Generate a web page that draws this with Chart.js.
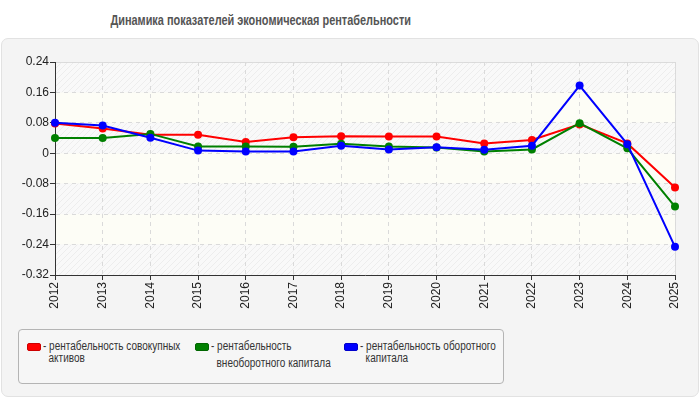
<!DOCTYPE html>
<html>
<head>
<meta charset="utf-8">
<script src="https://cdn.jsdelivr.net/npm/chart.js@4"></script>
<style>
    body { margin: 0; width: 700px; height: 400px; background: #fff; position: relative; overflow: hidden;
           font-family: "Liberation Sans", Arial, sans-serif; }
    .title { position: absolute; left: 0; width: 521px; top: 11px; text-align: center; }
    .title span { display: inline-block; font-size: 14px; font-weight: bold; color: #555;
                  transform: scaleX(0.78); transform-origin: center; white-space: nowrap; }
    .panel { position: absolute; left: 1px; top: 38px; width: 696px; height: 357px;
             background: #f4f4f4; border: 1px solid #e2e2e2; border-radius: 7px; }
    #grafico { position: absolute; left: 0; top: 40px; }
    .legend { position: absolute; left: 18px; top: 329px; width: 484px; height: 53px;
              border: 1px solid #b4b4b4; border-radius: 4px; background: #f6f6f6; }
    .item { position: absolute; top: 10px; font-size: 12.5px; color: #333; line-height: 12px; }
    .swatch { position: absolute; left: 0; top: 3px; width: 12px; height: 6px; border-radius: 2px; }
    .txt { position: absolute; left: 16px; top: 0; white-space: nowrap;
           transform: scaleX(0.8); transform-origin: left top; }
</style>
</head>
<body>
<div class="title"><span>Динамика показателей экономическая рентабельности</span></div>
<div class="panel"></div>
<canvas id="grafico" width="700" height="280"></canvas>
<div class="legend">
    <div class="item" style="left: 8px;">
        <div class="swatch" style="background: #ff0000; border: 1px solid #c00;"></div>
        <div class="txt">- рентабельность совокупных<br>&nbsp;&nbsp;активов</div>
    </div>
    <div class="item" style="left: 176px;">
        <div class="swatch" style="background: #008000; border: 1px solid #060;"></div>
        <div class="txt">- рентабельность<br><span style="position: relative; top: 5px;">&nbsp;&nbsp;внеоборотного капитала</span></div>
    </div>
    <div class="item" style="left: 325px;">
        <div class="swatch" style="background: #0000ff; border: 1px solid #00c;"></div>
        <div class="txt">- рентабельность оборотного<br>&nbsp;&nbsp;капитала</div>
    </div>
</div>
<script>
// Datos del gráfico
const anios = ['2012', '2013', '2014', '2015', '2016', '2017', '2018', '2019', '2020', '2021', '2022', '2023', '2024', '2025'];
const rentActivos = [0.078, 0.065, 0.049, 0.049, 0.030, 0.042, 0.045, 0.044, 0.044, 0.026, 0.035, 0.076, 0.026, -0.090];
const rentVneoborotnyi = [0.040, 0.040, 0.051, 0.018, 0.018, 0.017, 0.025, 0.018, 0.015, 0.005, 0.010, 0.079, 0.013, -0.140];
const rentOborotnyi = [0.080, 0.073, 0.041, 0.007, 0.005, 0.005, 0.020, 0.010, 0.016, 0.009, 0.020, 0.178, 0.024, -0.246];
const nombres = ['рентабельность совокупных активов', 'рентабельность внеоборотного капитала', 'рентабельность оборотного капитала'];
const yMin = -0.32, yMax = 0.24, yStep = 0.08;

// Patrón rayado para el fondo
function crearPatron(ctx) {
    const p = document.createElement('canvas');
    p.width = 6; p.height = 6;
    const c = p.getContext('2d');
    c.fillStyle = '#f9f9f9';
    c.fillRect(0, 0, 6, 6);
    c.strokeStyle = '#ededed';
    c.lineWidth = 1;
    c.beginPath();
    c.moveTo(0, 6); c.lineTo(6, 0);
    c.moveTo(-3, 3); c.lineTo(3, -3);
    c.moveTo(3, 9); c.lineTo(9, 3);
    c.stroke();
    return ctx.createPattern(p, 'repeat');
}

const fondoPlugin = {
    id: 'fondo',
    beforeDraw(chart) {
        const { ctx, chartArea: a, scales: { y } } = chart;
        const patron = crearPatron(ctx);
        ctx.save();
        let i = 0;
        for (let v = yMax; v > yMin + 1e-9; v -= yStep) {
            const top = y.getPixelForValue(v);
            const bot = y.getPixelForValue(v - yStep);
            ctx.fillStyle = (i % 2 === 0) ? patron : '#fdfdf6';
            ctx.fillRect(a.left, top, a.right - a.left, bot - top);
            i++;
        }
        ctx.strokeStyle = '#dcdcdc';
        ctx.lineWidth = 1;
        ctx.beginPath();
        ctx.moveTo(a.left, a.top + 0.5); ctx.lineTo(a.right + 0.5, a.top + 0.5);
        ctx.lineTo(a.right + 0.5, a.bottom);
        ctx.stroke();
        ctx.restore();
    }
};

const ctx = document.getElementById('grafico');
new Chart(ctx, {
    type: 'line',
    data: {
        labels: anios,
        datasets: [
            { label: nombres[0], data: rentActivos, borderColor: '#ff0000', backgroundColor: '#ff0000', order: 3 },
            { label: nombres[1], data: rentVneoborotnyi, borderColor: '#008000', backgroundColor: '#008000', order: 2 },
            { label: nombres[2], data: rentOborotnyi, borderColor: '#0000ff', backgroundColor: '#0000ff', order: 1 }
        ]
    },
    options: {
        responsive: false,
        animation: false,
        layout: { padding: { left: 0, right: 25, top: 22, bottom: 0 } },
        elements: {
            line: { borderWidth: 2, tension: 0 },
            point: { radius: 4, borderWidth: 0, hoverRadius: 4 }
        },
        plugins: { legend: { display: false }, tooltip: { enabled: false } },
        scales: {
            x: {
                offset: false,
                afterFit: s => { s.height = 45; },
                grid: { color: '#dadada', tickLength: 5, tickColor: '#333', tickBorderDash: [] },
                border: { color: '#333', width: 1, dash: [4, 4] },
                ticks: { color: '#222', font: { family: 'Liberation Sans, Arial', size: 12 }, minRotation: 90, maxRotation: 90, padding: 2, autoSkip: false }
            },
            y: {
                min: yMin,
                max: yMax,
                afterFit: s => { s.width = 55; },
                grid: { color: '#dadada', tickLength: 5, tickColor: '#333', tickBorderDash: [] },
                border: { color: '#333', width: 1, dash: [4, 4] },
                ticks: {
                    stepSize: yStep,
                    color: '#222',
                    padding: 1,
                    font: { family: 'Liberation Sans, Arial', size: 12 },
                    callback: v => { const r = Math.round(v * 100) / 100; return r === 0 ? '0' : String(r); }
                }
            }
        }
    },
    plugins: [fondoPlugin]
});
</script>
</body>
</html>
